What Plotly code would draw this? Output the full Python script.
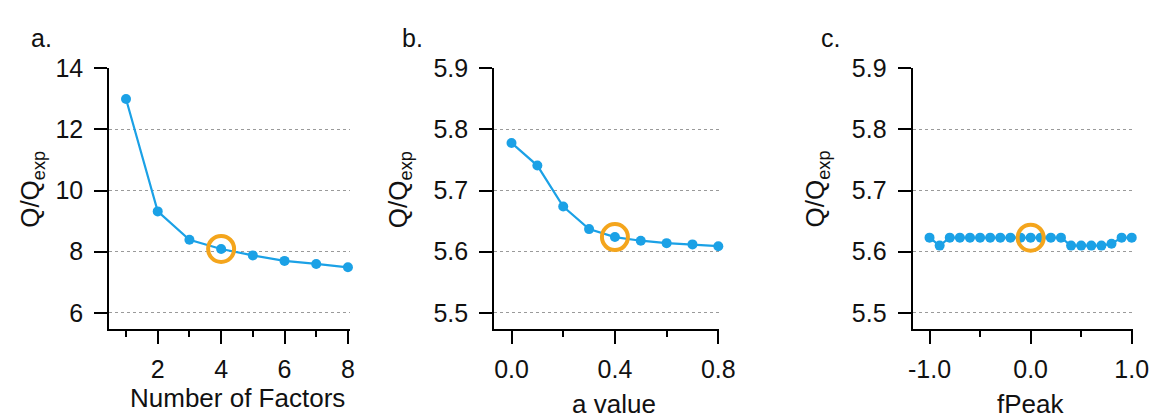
import plotly.graph_objects as go

# ---------------- data ----------------
factors = [1, 2, 3, 4, 5, 6, 7, 8]
q_factors = [13.0, 9.32, 8.39, 8.09, 7.88, 7.70, 7.60, 7.49]

a_values = [0.0, 0.1, 0.2, 0.3, 0.4, 0.5, 0.6, 0.7, 0.8]
q_a = [5.778, 5.741, 5.674, 5.637, 5.624, 5.618, 5.614, 5.612, 5.609]

fpeak = [-1.0, -0.9, -0.8, -0.7, -0.6, -0.5, -0.4, -0.3, -0.2, -0.1, 0.0,
         0.1, 0.2, 0.3, 0.4, 0.5, 0.6, 0.7, 0.8, 0.9, 1.0]
q_fpeak = [5.623, 5.610, 5.623, 5.623, 5.623, 5.623, 5.623, 5.623, 5.623, 5.623, 5.623,
           5.623, 5.623, 5.623, 5.610, 5.610, 5.610, 5.610, 5.613, 5.623, 5.623]

chosen_a = (4, 8.09)
chosen_b = (0.4, 5.624)
chosen_c = (0.0, 5.623)

panel_labels = ["a.", "b.", "c."]
x_titles = ["Number of Factors", "a value", "fPeak"]
y_title = "Q/Q<sub>exp</sub>"

# ---------------- styling ----------------
W, H = 1171, 417
OFF = 8  # page body margin
BLUE = "#1BA1E6"
ORANGE = "#F4A51C"
FONT = "Liberation Sans, Arial, sans-serif"
TXT = "#111111"


def px_x(p):
    return (p - OFF) / W


def px_y(p):
    return 1 - (p - OFF) / H


fig = go.Figure()

panels = [
    dict(x=factors, y=q_factors, hl=chosen_a, xd=(107, 352), xr=[0.47, 8.06],
         yr=[5.46, 14.0], ytv=[6, 8, 10, 12, 14], ytt=["6", "8", "10", "12", "14"],
         xtv=[2, 4, 6, 8], xtt=["2", "4", "6", "8"], xminor=1, x0minor=1,
         xt=(238, 397), yt=28, lab=(25, 25)),
    dict(x=a_values, y=q_a, hl=chosen_b, xd=(499, 728), xr=[-0.067, 0.803],
         yr=[5.473, 5.9], ytv=[5.5, 5.6, 5.7, 5.8, 5.9], ytt=["5.5", "5.6", "5.7", "5.8", "5.9"],
         xtv=[0.0, 0.4, 0.8], xtt=["0.0", "0.4", "0.8"], xminor=0.2, x0minor=0.0,
         xt=(621, 403), yt=402, lab=(403, 25)),
    dict(x=fpeak, y=q_fpeak, hl=chosen_c, xd=(925, 1149), xr=[-1.168, 1.008],
         yr=[5.473, 5.9], ytv=[5.5, 5.6, 5.7, 5.8, 5.9], ytt=["5.5", "5.6", "5.7", "5.8", "5.9"],
         xtv=[-1.0, 0.0, 1.0], xtt=["-1.0", "0.0", "1.0"], xminor=0.5, x0minor=-1.0,
         xt=(1045, 403), yt=827, lab=(830, 25)),
]

ydom = [px_y(326), px_y(56)]

annotations = []
for i, p in enumerate(panels):
    n = "" if i == 0 else str(i + 1)
    xa, ya = "x" + n, "y" + n
    fig.add_trace(go.Scatter(
        x=p["x"], y=p["y"], mode="lines+markers", xaxis=xa, yaxis=ya,
        line=dict(color=BLUE, width=2.2), marker=dict(color=BLUE, size=10),
        showlegend=False, cliponaxis=False))
    fig.add_trace(go.Scatter(
        x=[p["hl"][0]], y=[p["hl"][1]], mode="markers", xaxis=xa, yaxis=ya,
        marker=dict(size=26, color="rgba(0,0,0,0)", line=dict(color=ORANGE, width=4)),
        showlegend=False, cliponaxis=False))

    fig.layout["xaxis" + n] = dict(
        domain=[px_x(p["xd"][0]), px_x(p["xd"][1])], range=p["xr"], anchor=ya,
        showline=True, linecolor="black", linewidth=2, showgrid=False, zeroline=False,
        tickmode="array", tickvals=p["xtv"], ticktext=p["xtt"],
        ticks="outside", ticklen=13, tickwidth=2, tickcolor="black",
        ticklabelstandoff=4,
        minor=dict(ticks="outside", ticklen=6, tickwidth=2, tickcolor="black",
                   dtick=p["xminor"], tick0=p["x0minor"], showgrid=False),
        tickfont=dict(family=FONT, size=25, color=TXT))
    fig.layout["yaxis" + n] = dict(
        domain=ydom, range=p["yr"], anchor=xa,
        showline=True, linecolor="black", linewidth=2, zeroline=False,
        showgrid=True, gridcolor="#9a9a9a", griddash="dot", gridwidth=1,
        tickmode="array", tickvals=p["ytv"], ticktext=p["ytt"],
        ticks="outside", ticklen=13, tickwidth=2, tickcolor="black",
        ticklabelstandoff=6,
        tickfont=dict(family=FONT, size=25, color=TXT))

    annotations.append(dict(
        x=px_x(p["xt"][0]), y=px_y(p["xt"][1]), xref="paper", yref="paper",
        text=x_titles[i], showarrow=False, xanchor="center", yanchor="middle",
        font=dict(family=FONT, size=26, color=TXT)))
    annotations.append(dict(
        x=px_x(p["yt"]), y=px_y(181), xref="paper", yref="paper",
        text=y_title, textangle=-90, showarrow=False, xanchor="center", yanchor="middle",
        font=dict(family=FONT, size=26, color=TXT)))
    annotations.append(dict(
        x=px_x(p["lab"][0]), y=px_y(p["lab"][1]), xref="paper", yref="paper",
        text=panel_labels[i], showarrow=False, xanchor="left", yanchor="middle",
        font=dict(family=FONT, size=25, color=TXT)))

fig.update_layout(
    width=W, height=H, margin=dict(l=0, r=0, t=0, b=0),
    paper_bgcolor="white", plot_bgcolor="white",
    annotations=annotations,
)

fig.write_html("out.html")
